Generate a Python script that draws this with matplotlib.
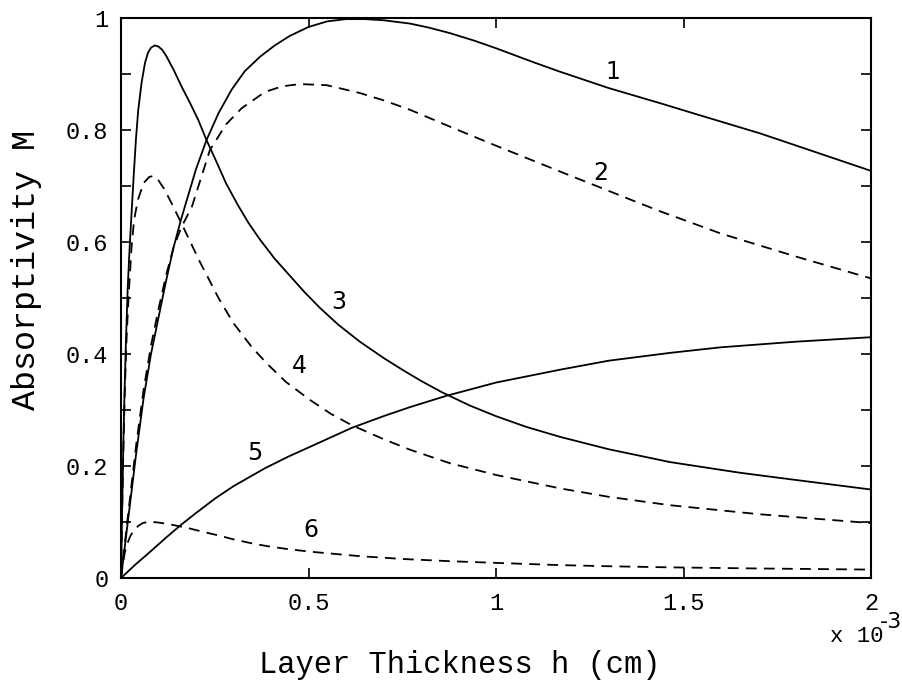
import matplotlib
matplotlib.use("Agg")
import matplotlib.pyplot as plt

plt.rcParams['font.family'] = ['Liberation Mono', 'DejaVu Sans Mono']

# x in units of 1e-3 cm
x1 = [0, 0.01, 0.02, 0.04, 0.06, 0.08, 0.1, 0.12, 0.14, 0.16, 0.18, 0.2, 0.228, 0.26, 0.295, 0.33, 0.371, 0.41, 0.45, 0.5, 0.55, 0.6, 0.65, 0.7, 0.771, 0.82, 0.877, 0.94, 1.0, 1.1, 1.171, 1.3, 1.437, 1.55, 1.704, 1.85, 2.0]
y1 = [0, 0.055, 0.11, 0.22, 0.32, 0.40, 0.465, 0.53, 0.59, 0.64, 0.685, 0.73, 0.782, 0.83, 0.872, 0.905, 0.931, 0.951, 0.968, 0.984, 0.994, 0.998, 0.998, 0.996, 0.99, 0.983, 0.973, 0.96, 0.946, 0.921, 0.904, 0.875, 0.848, 0.825, 0.794, 0.761, 0.727]

x2 = [0, 0.01, 0.02, 0.04, 0.06, 0.08, 0.1, 0.12, 0.14, 0.16, 0.189, 0.237, 0.28, 0.322, 0.384, 0.43, 0.477, 0.549, 0.637, 0.7, 0.771, 0.877, 0.96, 1.0, 1.1, 1.2, 1.268, 1.35, 1.437, 1.6, 1.8, 2.0]
y2 = [0, 0.06, 0.12, 0.235, 0.335, 0.415, 0.48, 0.54, 0.59, 0.625, 0.663, 0.764, 0.81, 0.839, 0.868, 0.878, 0.882, 0.880, 0.866, 0.853, 0.836, 0.806, 0.783, 0.772, 0.745, 0.718, 0.70, 0.678, 0.655, 0.615, 0.574, 0.535]

x3 = [0, 0.003, 0.006, 0.009, 0.013, 0.018, 0.023, 0.028, 0.034, 0.04, 0.046, 0.055, 0.064, 0.072, 0.08, 0.09, 0.1, 0.11, 0.12, 0.14, 0.162, 0.185, 0.206, 0.228, 0.25, 0.28, 0.31, 0.34, 0.371, 0.41, 0.45, 0.49, 0.531, 0.58, 0.637, 0.7, 0.75, 0.8, 0.855, 0.93, 1.0, 1.08, 1.171, 1.3, 1.464, 1.65, 1.8, 2.0]
y3 = [0, 0.12, 0.23, 0.32, 0.42, 0.52, 0.59, 0.65, 0.72, 0.785, 0.836, 0.885, 0.92, 0.938, 0.947, 0.951, 0.949, 0.943, 0.933, 0.908, 0.877, 0.847, 0.818, 0.782, 0.75, 0.705, 0.668, 0.634, 0.604, 0.57, 0.54, 0.51, 0.482, 0.452, 0.422, 0.393, 0.372, 0.352, 0.332, 0.308, 0.289, 0.27, 0.252, 0.23, 0.207, 0.188, 0.175, 0.158]

x4 = [0, 0.003, 0.006, 0.01, 0.015, 0.02, 0.028, 0.035, 0.045, 0.06, 0.075, 0.086, 0.1, 0.115, 0.135, 0.16, 0.18, 0.21, 0.237, 0.26, 0.3, 0.348, 0.389, 0.44, 0.504, 0.56, 0.615, 0.7, 0.771, 0.877, 1.0, 1.171, 1.3, 1.464, 1.7, 2.0]
y4 = [0, 0.12, 0.22, 0.33, 0.43, 0.5, 0.59, 0.64, 0.675, 0.705, 0.716, 0.718, 0.71, 0.695, 0.669, 0.635, 0.607, 0.565, 0.53, 0.5, 0.455, 0.413, 0.383, 0.35, 0.318, 0.293, 0.273, 0.248, 0.229, 0.205, 0.184, 0.160, 0.145, 0.130, 0.114, 0.098]

x5 = [0, 0.04, 0.073, 0.12, 0.162, 0.2, 0.251, 0.3, 0.384, 0.45, 0.5, 0.615, 0.7, 0.77, 0.866, 1.0, 1.171, 1.3, 1.464, 1.6, 1.8, 2.0]
y5 = [0, 0.025, 0.044, 0.072, 0.096, 0.116, 0.142, 0.164, 0.196, 0.218, 0.233, 0.268, 0.289, 0.305, 0.325, 0.349, 0.372, 0.388, 0.402, 0.412, 0.422, 0.43]

x6 = [0, 0.005, 0.01, 0.016, 0.025, 0.035, 0.046, 0.058, 0.07, 0.085, 0.1, 0.12, 0.144, 0.18, 0.215, 0.26, 0.3, 0.348, 0.389, 0.44, 0.504, 0.57, 0.637, 0.75, 0.877, 1.0, 1.171, 1.3, 1.464, 1.7, 2.0]
y6 = [0, 0.025, 0.045, 0.06, 0.075, 0.086, 0.093, 0.098, 0.1, 0.1, 0.099, 0.097, 0.094, 0.089, 0.083, 0.076, 0.069, 0.062, 0.057, 0.052, 0.047, 0.043, 0.039, 0.034, 0.030, 0.027, 0.023, 0.021, 0.019, 0.017, 0.015]

curve_labels = ['1', '2', '3', '4', '5', '6']
label_x = [1.312, 1.28, 0.581, 0.475, 0.357, 0.506]
label_y = [0.904, 0.724, 0.493, 0.378, 0.223, 0.086]

xticks = [0, 0.5, 1, 1.5, 2]
xticklabels = ['0', '0.5', '1', '1.5', '2']
yticks = [0, 0.1, 0.2, 0.3, 0.4, 0.5, 0.6, 0.7, 0.8, 0.9, 1]
yticklabels = ['0', '', '0.2', '', '0.4', '', '0.6', '', '0.8', '', '1']

fig = plt.figure(figsize=(9.03, 6.9), dpi=100)
ax = fig.add_axes([121/903, 1 - 578/690, 750/903, 560/690])

lw = 1.3
dash = (0, (6, 4))
ax.plot(x1, y1, color='black', lw=lw)
ax.plot(x2, y2, color='black', lw=lw, ls=dash)
ax.plot(x3, y3, color='black', lw=lw)
ax.plot(x4, y4, color='black', lw=lw, ls=dash)
ax.plot(x5, y5, color='black', lw=lw)
ax.plot(x6, y6, color='black', lw=lw, ls=dash)

for t, lx, ly in zip(curve_labels, label_x, label_y):
    ax.text(lx, ly, t, fontsize=17, ha='center', va='center', family=['DejaVu Sans'])

ax.set_xlim(0, 2)
ax.set_ylim(0, 1)
ax.set_xticks(xticks)
ax.set_xticklabels(xticklabels)
ax.set_yticks(yticks)
ax.set_yticklabels(yticklabels)
ax.tick_params(direction='in', length=7, width=1.2, top=True, right=True, labelsize=17)
ax.tick_params(axis='x', pad=10)
ax.tick_params(axis='y', pad=9)
for s in ax.spines.values():
    s.set_linewidth(1.5)

ax.set_xlabel('Layer Thickness h (cm)', fontsize=22)
ax.xaxis.set_label_coords((460 - 121) / 750, -(665 - 578) / 560)
ax.xaxis.label.set_va('center')
ax.set_ylabel('Absorptivity M', fontsize=24)
ax.yaxis.set_label_coords(-(121 - 27) / 750, (578 - 270) / 560)
ax.yaxis.label.set_va('center')
fig.text(830/903, 1 - 637/690, 'x 10', fontsize=16, ha='left', va='center')
fig.text(880/903, 1 - 622/690, '-3', fontsize=16, ha='left', va='center', family=['DejaVu Sans'])

fig.savefig('out.png', dpi=100)
